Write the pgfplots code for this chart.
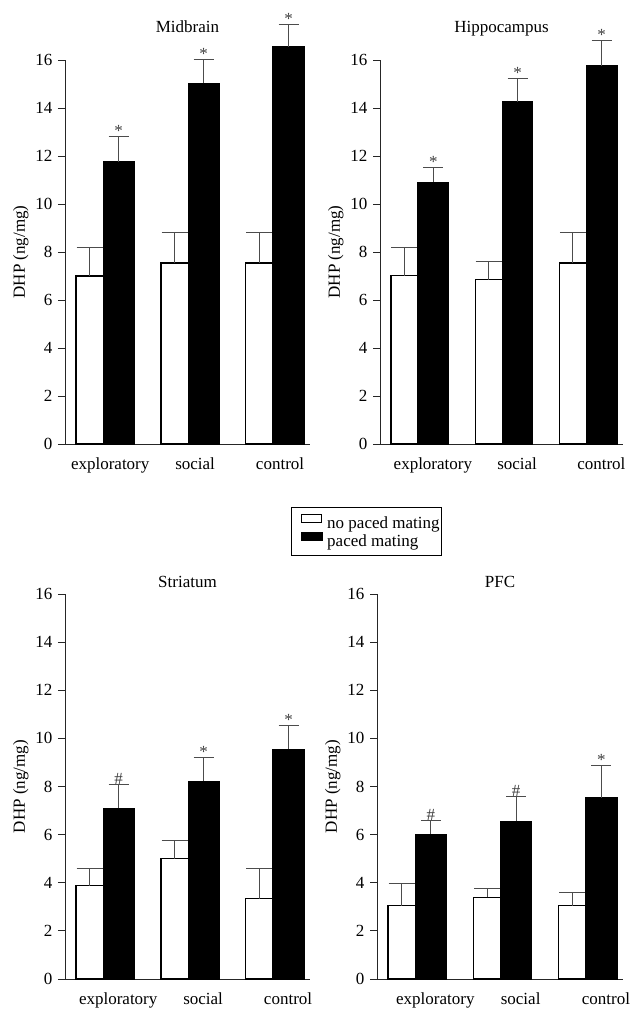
\documentclass[border=0pt]{standalone}
\usepackage{fontspec}
\setmainfont{Liberation Serif}
\usepackage{pgfplots}
\usepackage{pgfplotstable}
\pgfplotsset{compat=1.18}
\newcommand\fs{\fontsize{17pt}{20pt}\selectfont}

% x: group, wy/we: no paced mating mean/SEM, by/be: paced mating mean/SEM, s: mark
\pgfplotstableread{
x wy   we   by    be   s
0 7.00 1.20 11.77 1.04 *
1 7.54 1.27 15.03 0.97 *
2 7.54 1.27 16.56 0.93 *
}\midbrain
\pgfplotstableread{
x wy   we   by    be   s
0 7.01 1.19 10.91 0.61 *
1 6.84 0.76 14.25 0.99 *
2 7.54 1.27 15.76 1.05 *
}\hippocampus
\pgfplotstableread{
x wy   we   by   be   s
0 3.87 0.71 7.09 1.01 \#
1 5.00 0.74 8.22 0.99 *
2 3.34 1.25 9.54 0.99 *
}\striatum
\pgfplotstableread{
x wy   we   by   be   s
0 3.05 0.93 6.02 0.58 \#
1 3.40 0.37 6.55 1.02 \#
2 3.05 0.55 7.54 1.34 *
}\pfc

\pgfplotsset{
  panel/.style={
    scale only axis, anchor=south west, clip=false,
    xmin=-0.45, xmax=2.435, ymin=0, ymax=16,
    axis x line=bottom, axis y line=left,
    axis line style={-, line width=0.9pt, black!85},
    ytick={0,2,...,16}, xtick={0,1,2},
    xticklabels={exploratory,social,control},
    x tick style={draw=none},
    y tick style={line width=0.9pt, black!85},
    tick align=outside, major tick length=7pt,
    tick label style={font=\fs},
    yticklabel style={xshift=-2pt},
    xticklabel style={yshift=-3.5pt},
    /pgf/number format/assume math mode=true,
    ylabel={DHP (ng/mg)}, ylabel style={font=\fs},
    title style={font=\fs, at={(0.5,1)}, anchor=base},
  },
  whitebar/.style={ybar, bar width=0.32, bar shift=-0.16, fill=white, draw=black, line width=1.2pt,
    legend image code/.code={\path (0pt,0pt);
      \draw[fill=white, draw=black, line width=1pt] (9pt,0.5pt) rectangle (29pt,9pt);}},
  blackbar/.style={ybar, bar width=0.365, bar shift=0.1825, fill=black, draw=black, line width=1.2pt,
    legend image code/.code={\path (0pt,0pt);
      \draw[fill=black, draw=black, line width=1pt] (9pt,0.5pt) rectangle (30pt,9pt);}},
  errbar/.style={draw=none, mark=none, forget plot,
    error bars/.cd, y dir=plus, y explicit, error mark=|,
    error bar style={solid, line width=1pt, black!70},
    error mark options={line width=1pt, black!70, mark size=#1}},
  sig/.style={draw=none, mark=none, forget plot, nodes near coords, point meta=explicit symbolic,
    nodes near coords align={anchor=base},
    every node near coord/.append style={font=\fs, text=black!75, inner sep=0pt}},
}
% bars, error bars and marks of one panel
\newcommand\panelplots[1]{%
  \addplot[whitebar] table[x=x, y=wy] {#1};
  \addplot[blackbar] table[x=x, y=by] {#1};
  \addplot[errbar=13pt] table[x expr=\thisrow{x}-0.16, y=wy, y error=we] {#1};
  \addplot[errbar=10pt] table[x expr=\thisrow{x}+0.1825, y=by, y error=be] {#1};
  \addplot[sig] table[x expr=\thisrow{x}+0.1825, y expr=\thisrow{by}+\thisrow{be}, meta=s] {#1};
}

\begin{document}
\begin{tikzpicture}
\path[use as bounding box] (0,0) rectangle (639pt,1021pt);

\begin{axis}[panel, at={(65pt,577pt)}, width=245pt, height=384pt,
  title={Midbrain}, title style={yshift=21pt},
  xticklabel style={xshift=7pt}]
\panelplots{\midbrain}
\end{axis}

\begin{axis}[panel, at={(380pt,577pt)}, width=243pt, height=384pt,
  title={Hippocampus}, title style={yshift=21pt},
  xticklabel style={xshift=15pt}]
\panelplots{\hippocampus}
\end{axis}

\begin{axis}[panel, at={(65pt,42pt)}, width=245pt, height=385pt,
  title={Striatum}, title style={yshift=0pt},
  xticklabel style={xshift=15pt},
  legend style={at={(0.921,1.225)}, anchor=north west, draw=black, line width=1pt,
    font=\fs, legend cell align=left, inner xsep=1pt, inner ysep=6pt,
    column sep=3pt, row sep=0pt, nodes={inner xsep=1pt, inner ysep=1.85pt}},
  ]
\panelplots{\striatum}
\legend{no paced mating, paced mating}
\end{axis}

\begin{axis}[panel, at={(377pt,42pt)}, width=246pt, height=385pt,
  title={PFC}, title style={yshift=0pt},
  xticklabel style={xshift=20pt}]
\panelplots{\pfc}
\end{axis}
\end{tikzpicture}
\end{document}
